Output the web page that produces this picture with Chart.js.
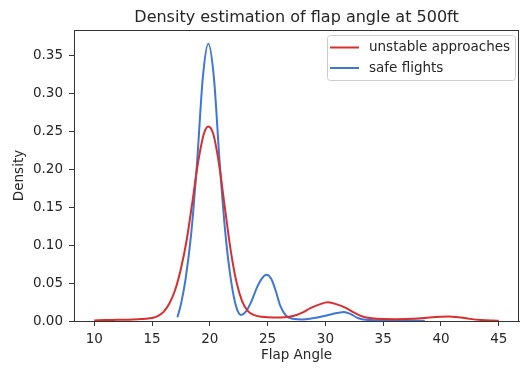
<!DOCTYPE html>
<html>
<head>
<meta charset="utf-8">
<script src="https://cdn.jsdelivr.net/npm/chart.js@4.4.1/dist/chart.umd.min.js"></script>
<style>
  html, body { margin: 0; padding: 0; background: #fff; }
  #wrap { width: 522px; height: 368px; position: relative; }
</style>
</head>
<body>
<div id="wrap"><canvas id="myChart" width="522" height="368"></canvas></div>
<script>
// Dados (estimativa de densidade)
const titulo = 'Density estimation of flap angle at 500ft'
const series = ['unstable approaches', 'safe flights']
const cores = ['#d62f2f', '#3f77d6']

const xInstavel = [10, 11, 12, 13, 14, 15, 15.5, 16, 16.5, 17, 17.5, 18, 18.5, 19, 19.5, 19.87, 20.3, 20.8, 21.3, 21.8, 22.3, 22.8, 23.3, 23.8, 24.5, 25.5, 26.5, 27.2, 28, 28.7, 29.5, 30.2, 31, 31.8, 32.5, 33.2, 34, 35, 36, 37, 38, 39, 40, 40.6, 41.5, 42.5, 43.5, 44.5, 45]
const yInstavel = [0.0008, 0.0012, 0.0015, 0.0018, 0.0025, 0.004, 0.0065, 0.012, 0.023, 0.041, 0.069, 0.107, 0.158, 0.211, 0.248, 0.257, 0.247, 0.207, 0.150, 0.094, 0.052, 0.026, 0.013, 0.008, 0.0055, 0.0045, 0.0048, 0.0065, 0.011, 0.017, 0.022, 0.0247, 0.022, 0.017, 0.011, 0.006, 0.0035, 0.0025, 0.0024, 0.0026, 0.0032, 0.0045, 0.0055, 0.0058, 0.005, 0.0028, 0.0013, 0.0006, 0.0004]

const xSeguro = [17.2, 17.5, 17.9, 18.4, 18.9, 19.4, 19.87, 20.35, 20.85, 21.35, 21.85, 22.3, 22.7, 23.1, 23.6, 24.1, 24.5, 24.9, 25.3, 25.7, 26.1, 26.6, 27.2, 28, 29, 30, 31, 31.6, 32.2, 32.8, 33.5, 34.5, 36, 37.5, 38.6]
const ySeguro = [0.005, 0.022, 0.055, 0.117, 0.21, 0.322, 0.366, 0.322, 0.21, 0.115, 0.052, 0.018, 0.008, 0.012, 0.026, 0.045, 0.056, 0.061, 0.056, 0.04, 0.02, 0.007, 0.003, 0.002, 0.004, 0.007, 0.0105, 0.012, 0.009, 0.004, 0.0015, 0.001, 0.0008, 0.0006, 0.0004]

const ticksX = [10, 15, 20, 25, 30, 35, 40, 45]
const ticksY = [0, 0.05, 0.1, 0.15, 0.2, 0.25, 0.3, 0.35]

function pontos(xs, ys) {
    return xs.map((x, i) => ({ x: x, y: ys[i] }))
}

const fonte = 'DejaVu Sans'
const corTexto = '#262626'
const corEixo = '#333'

// Título, moldura e legenda desenhados à mão
const extras = {
    id: 'extras',
    afterDraw(chart) {
        const ctx = chart.ctx
        const a = chart.chartArea
        ctx.save()
        ctx.strokeStyle = corEixo
        ctx.lineWidth = 1
        ctx.strokeRect(a.left + 0.5, a.top + 0.5, a.right - a.left - 1, a.bottom - a.top)

        ctx.fillStyle = corTexto
        ctx.font = '16px "' + fonte + '"'
        ctx.textAlign = 'center'
        ctx.textBaseline = 'alphabetic'
        ctx.fillText(titulo, (a.left + a.right) / 2, 21.5)

        // legenda
        const lx = 327, ly = 35, lw = 188, lh = 45
        ctx.fillStyle = 'rgba(255,255,255,0.8)'
        ctx.strokeStyle = '#cccccc'
        ctx.beginPath()
        ctx.roundRect(lx + 0.5, ly + 0.5, lw, lh, 3)
        ctx.fill()
        ctx.stroke()
        ctx.textAlign = 'left'
        ctx.textBaseline = 'middle'
        ctx.font = '13.5px "' + fonte + '"'
        chart.data.datasets.forEach((ds, i) => {
            const yy = 47.5 + i * 20.5
            ctx.strokeStyle = ds.borderColor
            ctx.lineWidth = 2
            ctx.beginPath()
            ctx.moveTo(330, yy)
            ctx.lineTo(359, yy)
            ctx.stroke()
            ctx.fillStyle = corTexto
            ctx.fillText(ds.label, 369, yy)
        })
        ctx.restore()
    }
}

const ctx = document.getElementById('myChart')
new Chart(ctx, {
    type: 'line',
    data: {
        datasets: [{
            label: series[0],
            data: pontos(xInstavel, yInstavel),
            borderColor: cores[0],
            borderWidth: 2,
            pointRadius: 0,
            cubicInterpolationMode: 'monotone',
            fill: false
        }, {
            label: series[1],
            data: pontos(xSeguro, ySeguro),
            borderColor: cores[1],
            borderWidth: 2,
            pointRadius: 0,
            cubicInterpolationMode: 'monotone',
            fill: false
        }]
    },
    options: {
        responsive: false,
        animation: false,
        devicePixelRatio: 1,
        layout: { padding: { top: 30, right: 3, left: 0, bottom: 0 } },
        plugins: {
            legend: { display: false },
            tooltip: { enabled: false }
        },
        scales: {
            x: {
                type: 'linear',
                min: 8.25,
                max: 46.75,
                afterBuildTicks: (s) => { s.ticks = ticksX.map(v => ({ value: v })) },
                afterFit: (s) => { s.height = 47 },
                grid: { display: true, drawOnChartArea: false, tickLength: 5, color: corEixo },
                border: { display: true, color: corEixo },
                ticks: {
                    padding: 5,
                    color: corTexto,
                    font: { family: fonte, size: 13.5 },
                    maxRotation: 0,
                    callback: (v) => String(v)
                },
                title: {
                    display: true,
                    text: 'Flap Angle',
                    color: corTexto,
                    font: { family: fonte, size: 13.5 },
                    padding: { top: 0, bottom: 4 }
                }
            },
            y: {
                min: 0,
                max: 0.3843,
                afterBuildTicks: (s) => { s.ticks = ticksY.map(v => ({ value: v })) },
                afterFit: (s) => { s.width = 74 },
                grid: { display: true, drawOnChartArea: false, tickLength: 5, color: corEixo },
                border: { display: true, color: corEixo },
                ticks: {
                    padding: 6,
                    color: corTexto,
                    font: { family: fonte, size: 13.5 },
                    callback: (v) => Number(v).toFixed(2)
                },
                title: {
                    display: true,
                    text: 'Density',
                    color: corTexto,
                    font: { family: fonte, size: 13.5 },
                    padding: { top: 11.5, bottom: 0 }
                }
            }
        }
    },
    plugins: [extras]
})
</script>
</body>
</html>
